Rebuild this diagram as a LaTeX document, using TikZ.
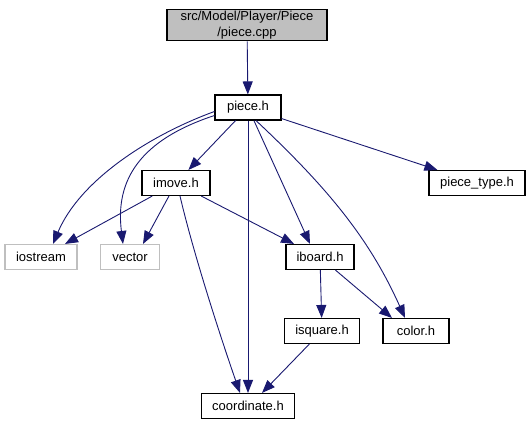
\documentclass[tikz,border=0pt]{standalone}
\usepackage{fontspec}
\setmainfont{Liberation Sans}
\usetikzlibrary{arrows.meta}
\definecolor{edgeblue}{HTML}{191970}
\definecolor{extgray}{HTML}{BFBFBF}
\begin{document}
\begin{tikzpicture}[x=1pt, y=-1pt, every node/.style={font=\fontsize{13}{15.5}\selectfont},
  file/.style={draw=black,line width=1.1pt,minimum height=25pt,inner xsep=6pt,inner ysep=2pt,align=center},
  ext/.style={file,draw=extgray},
  inc/.style={-{Triangle[length=13pt,width=10pt]},edgeblue,line width=0.9pt}]
\useasboundingbox (0,0) rectangle (531,425);
\node[file,fill=extgray,minimum width=160pt] (cpp) at (247,25) {src/Model/Player/Piece\\/piece.cpp};
\node[file,minimum width=66pt] (pieceh) at (248,107.5) {piece.h};
\node[file,minimum width=68pt] (imove) at (176,183) {imove.h};
\node[file,minimum width=96pt] (ptype) at (477,183) {piece\_type.h};
\node[ext,minimum width=72pt] (iostream) at (41,257) {iostream};
\node[ext,minimum width=59pt] (vector) at (130,257) {vector};
\node[file,minimum width=68pt] (iboard) at (320,257) {iboard.h};
\node[file,minimum width=75pt] (isquare) at (322,331) {isquare.h};
\node[file,minimum width=66pt] (color) at (416,331) {color.h};
\node[file,minimum width=93pt] (coord) at (248,406) {coordinate.h};
% includes of piece.cpp / piece.h
\draw[inc] (cpp) -- (pieceh);
\draw[inc] (pieceh.west) ++(0,4) .. controls (150,135) and (80,180) .. ([xshift=12pt]iostream.north);
\draw[inc] (pieceh.west) ++(0,8) .. controls (140,140) and (115,180) .. ([xshift=-7pt]vector.north);
\draw[inc] (pieceh) -- (imove);
\draw[inc] (pieceh) -- (coord);
\draw[inc] (pieceh) -- ([xshift=-10pt]iboard.north);
\draw[inc] ([xshift=8pt]pieceh.south) .. controls (330,190) and (370,240) .. ([xshift=-11pt]color.north);
\draw[inc] (pieceh) -- (ptype);
% includes of imove.h
\draw[inc] (imove) -- ([xshift=24pt]iostream.north);
\draw[inc] (imove) -- ([xshift=13pt]vector.north);
\draw[inc] ([xshift=4pt]imove.south) .. controls (195,260) and (225,350) .. ([xshift=-8pt]coord.north);
\draw[inc] (imove) -- ([xshift=-26pt]iboard.north);
% includes of iboard.h / isquare.h
\draw[inc] (iboard) -- (isquare);
\draw[inc] (iboard) -- ([xshift=-24pt]color.north);
\draw[inc] (isquare) -- ([xshift=14pt]coord.north);
\end{tikzpicture}
\end{document}
